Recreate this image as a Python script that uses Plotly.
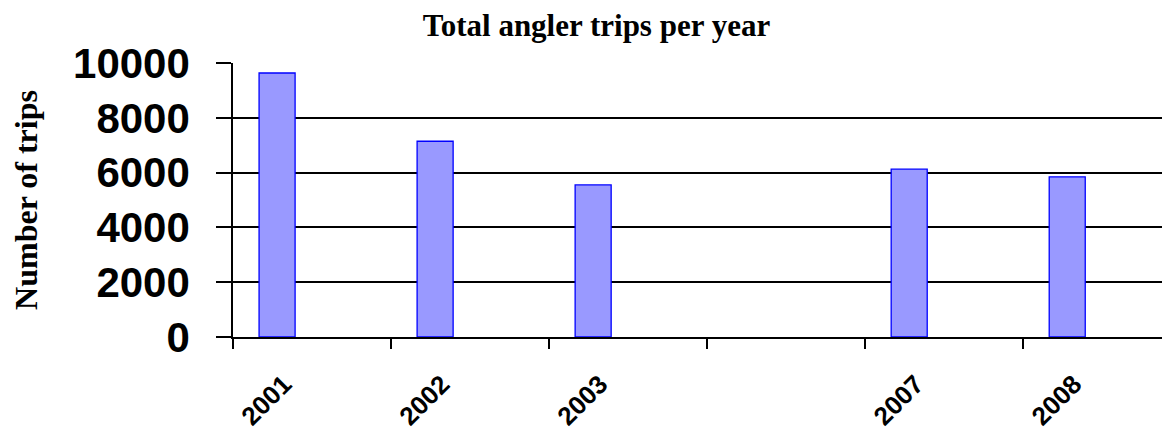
# Total angler trips per year - column chart

import plotly.graph_objects as go

# Category labels (one empty year slot between 2003 and 2007)
years = ["2001", "2002", "2003", " ", "2007", "2008"]

# Number of trips per year
trips = [9635, 7145, 5552, None, 6125, 5844]

# Y axis ticks
yTicks = [0, 2000, 4000, 6000, 8000, 10000]
yTickText = ["0", "2000", "4000", "6000", "8000", "10000"]

_BAR_FILL = "#9999ff"
_BAR_LINE = "#0000ff"

fig = go.Figure(go.Bar(
	x = years,
	y = trips,
	width = 0.228,
	offset = -0.335,
	marker = dict(color = _BAR_FILL, line = dict(color = _BAR_LINE, width = 1.3)),
	hoverinfo = "x+y",
))

# Page body adds an 8px offset, so margins are shifted to compensate
fig.update_layout(
	width = 1170,
	height = 429,
	paper_bgcolor = "white",
	plot_bgcolor = "white",
	showlegend = False,
	margin = {"l" : 225, "r" : 0, "t" : 55, "b" : 100, "autoexpand" : False},
	title = dict(
		text = "Total angler trips per year",
		x = 0.503, xanchor = "center",
		y = 0.96, yanchor = "middle",
		xref = "container",
		automargin = False,
		font = dict(family = "Liberation Serif", size = 31, color = "black", weight = "bold"),
	),
)

fig.update_xaxes(
	type = "category",
	range = [-0.5, 5.48],
	automargin = False,
	showgrid = False,
	showline = True,
	linecolor = "black",
	linewidth = 1.5,
	ticks = "outside",
	tickson = "boundaries",
	ticklen = 10,
	tickwidth = 1.5,
	tickcolor = "black",
	tickangle = -45,
	ticklabelshift = -28,
	ticklabelstandoff = 20,
	tickfont = dict(family = "Liberation Sans", size = 26, color = "black", weight = "bold"),
)

fig.update_yaxes(
	range = [0, 10000],
	tickvals = yTicks,
	ticktext = yTickText,
	automargin = False,
	showgrid = True,
	gridcolor = "black",
	gridwidth = 1.5,
	showline = True,
	linecolor = "black",
	linewidth = 1.5,
	ticks = "outside",
	ticklen = 15,
	tickwidth = 1.5,
	tickcolor = "black",
	ticklabelstandoff = 18,
	zeroline = False,
	tickfont = dict(family = "Liberation Sans", size = 42, color = "black", weight = "bold"),
	title = dict(
		text = "Number of trips",
		standoff = 33,
		font = dict(family = "Liberation Serif", size = 32, color = "black", weight = "bold"),
	),
)

fig.write_html("out.html")
